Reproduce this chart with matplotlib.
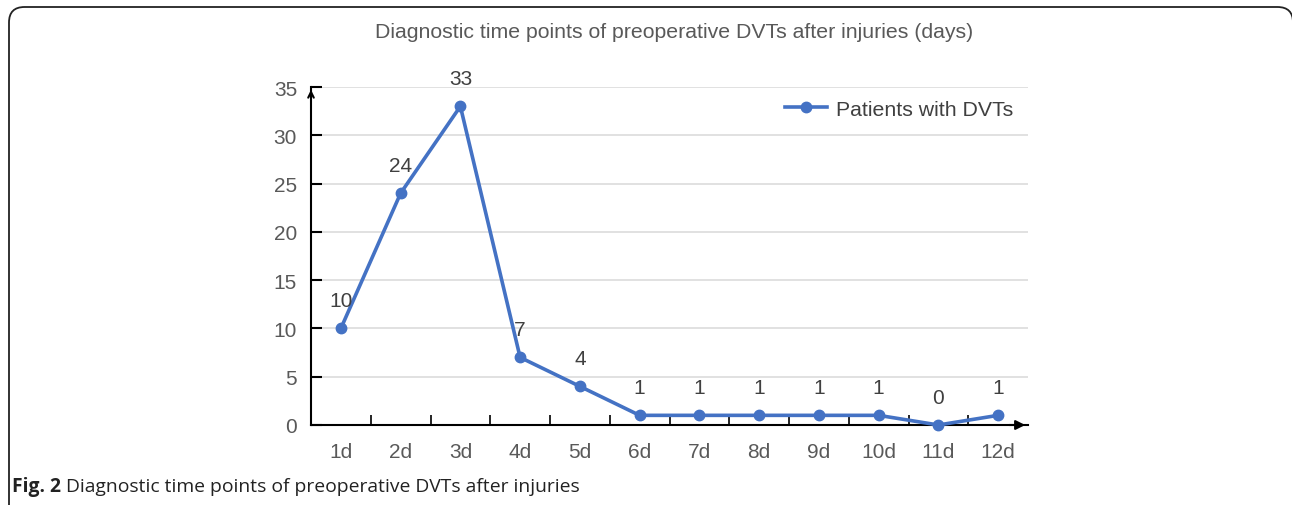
import matplotlib.pyplot as plt
from matplotlib.patches import FancyBboxPatch

# data
days = ['1d', '2d', '3d', '4d', '5d', '6d', '7d', '8d', '9d', '10d', '11d', '12d']
patients = [10, 24, 33, 7, 4, 1, 1, 1, 1, 1, 0, 1]
y_ticks = [0, 5, 10, 15, 20, 25, 30, 35]

title = 'Diagnostic time points of preoperative DVTs after injuries (days)'
series_name = 'Patients with DVTs'
caption_bold = 'Fig. 2'
caption_text = ' Diagnostic time points of preoperative DVTs after injuries'

BLUE = '#4472C4'
GREY = '#595959'

plt.rcParams['font.family'] = ['Liberation Sans', 'DejaVu Sans']

fig = plt.figure(figsize=(12.92, 5.06), dpi=100)
W, H = 1292, 506

# rounded frame round the whole figure (right / bottom edges run off the picture)
frame = FancyBboxPatch((9 / W, -20 / H), (1293 - 9) / W, (H - 8 + 20) / H,
                       boxstyle='round,pad=0,rounding_size=0.012',
                       transform=fig.transFigure, fill=False,
                       edgecolor='#222222', linewidth=1.3, mutation_aspect=W / H)
fig.patches.append(frame)

ax = fig.add_axes([311 / W, 80 / H, 717 / W, 338 / H])
x = list(range(len(days)))
ax.plot(x, patients, color=BLUE, linewidth=2.6, marker='o', markersize=7.5,
        label=series_name, zorder=3, clip_on=False)

for xi, v in zip(x, patients):
    ax.annotate(str(v), (xi, v), xytext=(0, 20), textcoords='offset points',
                ha='center', va='center', fontsize=15, color='#404040')

ax.set_xlim(-0.5, len(days) - 0.5)
ax.set_ylim(0, 35)
ax.set_yticks(y_ticks)
ax.set_yticklabels([str(t) for t in y_ticks], fontsize=15, color=GREY)
ax.set_xticks(x)
ax.set_xticklabels(days, fontsize=15, color=GREY)
ax.set_xticks([i - 0.5 for i in range(1, len(days))], minor=True)

ax.tick_params(axis='x', which='major', length=0, pad=12)
ax.tick_params(axis='x', which='minor', direction='in', length=7, width=1.2, color='black')
ax.tick_params(axis='y', direction='in', length=8, width=1.5, color='black', pad=10)

ax.grid(axis='y', color='#d9d9d9', linewidth=1.1)
ax.set_axisbelow(True)
for s in ['top', 'right']:
    ax.spines[s].set_visible(False)
ax.spines['left'].set_linewidth(1.5)
ax.spines['bottom'].set_linewidth(1.5)

# axis arrows
ax.annotate('', xy=(0, 1.0), xytext=(0, 0.97), xycoords='axes fraction',
            arrowprops=dict(arrowstyle='->', color='black', lw=1.5))
ax.annotate('', xy=(1.0, 0), xytext=(0.97, 0), xycoords='axes fraction',
            arrowprops=dict(arrowstyle='-|>', color='black', lw=1.5, mutation_scale=14))

ax.legend(loc='center right', bbox_to_anchor=(1.0, 1 - 22 / 338), frameon=False,
          fontsize=15.3, labelcolor='#404040', handlelength=2.0, handletextpad=0.4,
          borderaxespad=0.3)

fig.text(674 / W, 1 - 33 / H, title, ha='center', va='center', fontsize=15.3, color=GREY)

cap = fig.text(12 / W, 1 - 487 / H, caption_bold, ha='left', va='center', fontsize=13.9,
               fontweight='bold', family=['Open Sans', 'DejaVu Sans'], color='#222222')
fig.canvas.draw()
bb = cap.get_window_extent()
fig.text(bb.x1 / W, 1 - 487 / H, caption_text, ha='left', va='center', fontsize=13.9,
         family=['Open Sans', 'DejaVu Sans'], color='#222222')

fig.savefig('out.png', dpi=100)
